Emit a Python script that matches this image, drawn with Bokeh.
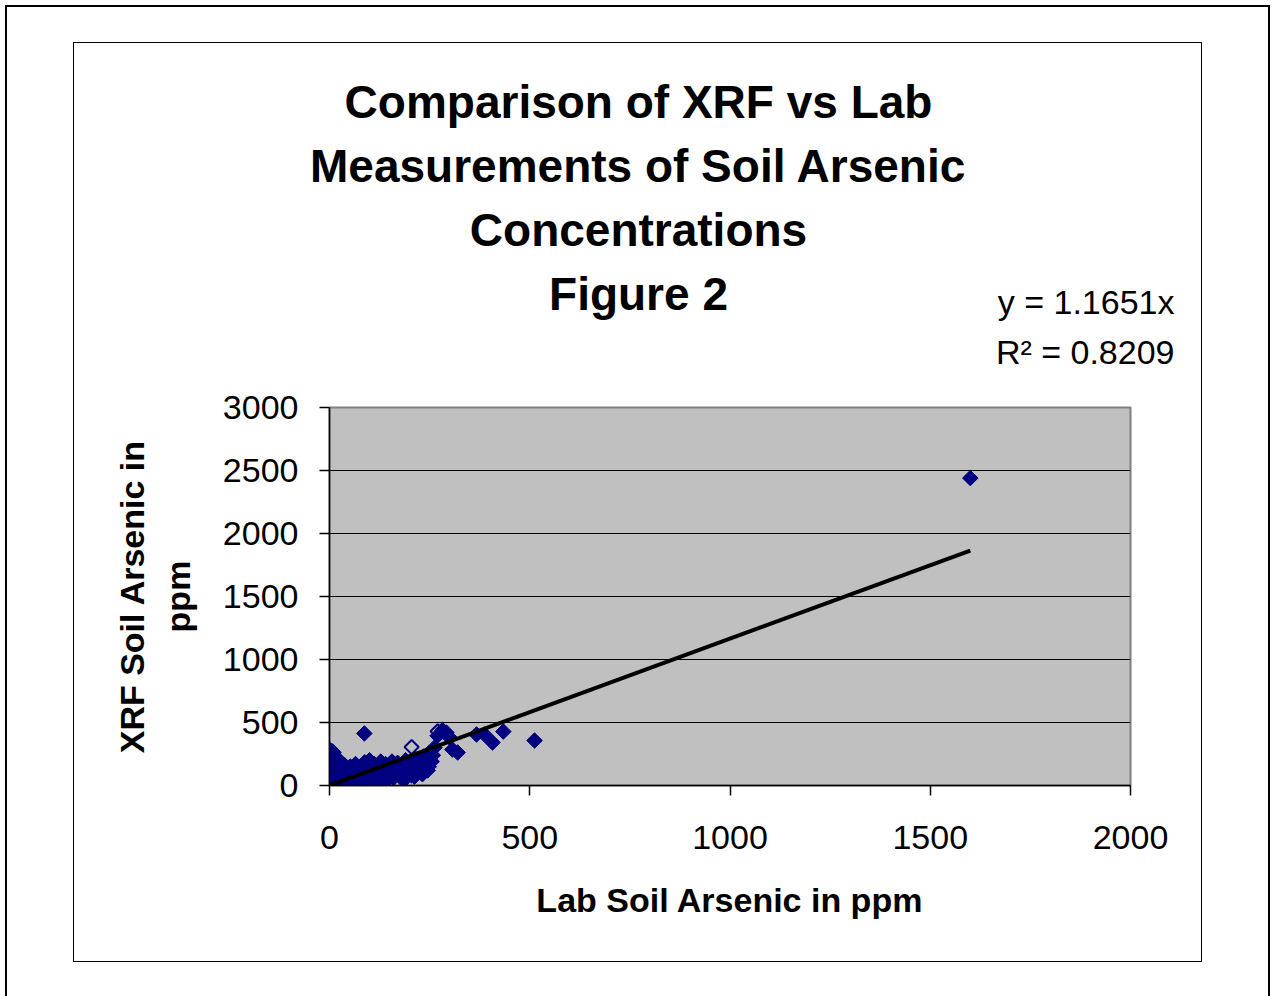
import math
from bokeh.plotting import figure
from bokeh.layouts import column
from bokeh.models import Range1d, FixedTicker, ColumnDataSource
from bokeh.core.properties import value
from bokeh.embed import file_html
from bokeh.resources import INLINE

# ---- data ----
lab_filled = [1, 2, 3, 3, 4, 5, 5, 6, 7, 8, 9, 10, 12, 14, 15, 16, 18, 20, 22, 4, 6, 11, 13, 17, 19, 21,
              24, 26, 28, 30, 32, 35, 38, 40, 42, 45, 2, 8, 14, 25, 33, 10, 18, 27,
              48, 52, 55, 58, 62, 65, 68, 72, 76, 80, 84, 88, 92, 96, 100, 104, 108, 112, 116, 120, 124,
              128, 132, 136, 140, 144, 148, 152, 156, 160, 165, 170, 175, 180, 185, 190, 195, 200, 205,
              210, 215, 220, 225, 230, 235, 240, 245, 250, 255, 262, 232, 248, 258, 212, 198, 186,
              87, 282, 270, 292, 300, 307, 320, 367, 387, 407, 434, 512, 1600, 125, 135, 118]
xrf_filled = [3, 10, 25, 50, 70, 90, 120, 150, 180, 210, 240, 260, 225, 190, 150, 110, 75, 40, 15, 200, 235,
              55, 30, 95, 130, 170, 200, 140, 90, 50, 20, 110, 160, 70, 30, 120, 280, 270, 60, 175, 60, 5, 5, 8,
              80, 150, 25, 110, 60, 170, 10, 130, 90, 40, 150, 185, 110, 60, 200, 140, 20, 170, 100, 150, 60,
              190, 120, 80, 170, 40, 140, 100, 190, 60, 130, 180, 90, 150, 40, 200, 120, 170, 80,
              140, 210, 110, 180, 150, 230, 170, 120, 260, 190, 300, 90, 150, 240, 70, 120, 60,
              413, 440, 395, 420, 380, 285, 262, 405, 405, 341, 428, 357, 2440, 15, 25, 30]

lab_hollow = [205, 125, 270, 60, 25, 150, 180, 10, 240]
xrf_hollow = [305, 5, 430, 140, 90, 80, 160, 30, 200]

slope = 1.1651
r_squared = 0.8209
trend_x = [0, 1600]

title_lines = ["Comparison of XRF vs Lab", "Measurements of Soil Arsenic", "Concentrations", "Figure 2"]
equation_lines = ["y = %.4fx" % slope, "R\u00b2 = %.4f" % r_squared]
x_ticks = [0, 500, 1000, 1500, 2000]
y_ticks = [0, 500, 1000, 1500, 2000, 2500, 3000]

FONT = "Liberation Sans"

# chart area (inner box) content starts at page (75, 44)
OX, OY = 75, 44
W = 1127
HTOP = 344                  # heading strip: page y 44..388
HMAIN = 918 - HTOP          # main plot: page y 388..961

# ---------- heading strip (title + regression text) ----------
top = figure(width=W, height=HTOP, output_backend="svg", toolbar_location=None,
             x_range=Range1d(0, W), y_range=Range1d(HTOP, 0),
             min_border=0, x_axis_location=None, y_axis_location=None)
top.frame_align = False
top.outline_line_color = None
top.background_fill_color = "white"
top.border_fill_color = "white"
top.grid.visible = False

title_src = ColumnDataSource(dict(x=[639 - OX] * 4, y=[102 - OY + 64 * i for i in range(4)],
                                  t=title_lines))
top.text("x", "y", text="t", source=title_src, text_font=value(FONT), text_font_style="bold",
         text_font_size="46px", text_align="center", text_baseline="middle", text_color="black")

eq_src = ColumnDataSource(dict(x=[1175 - OX] * 2, y=[302 - OY, 352 - OY], t=equation_lines))
top.text("x", "y", text="t", source=eq_src, text_font=value(FONT), text_font_style="normal",
         text_font_size="34px", text_align="right", text_baseline="middle", text_color="black")

# ---------- main scatter plot ----------
FL, FR = 330 - OX, 1131 - OX
FT, FB = 408 - (OY + HTOP), 786 - (OY + HTOP)

p = figure(width=W, height=HMAIN, output_backend="svg", toolbar_location=None,
           x_range=Range1d(0, 2000), y_range=Range1d(0, 3000),
           min_border_left=FL, min_border_right=W - FR,
           min_border_top=FT, min_border_bottom=HMAIN - FB)
p.frame_align = False
p.background_fill_color = "#c0c0c0"
p.border_fill_color = "white"
p.outline_line_color = "#808080"
p.outline_line_width = 2

p.xgrid.visible = False
p.ygrid.grid_line_color = "black"
p.ygrid.grid_line_width = 1
p.ygrid.ticker = FixedTicker(ticks=y_ticks)

for ax, ticks in ((p.xaxis, x_ticks), (p.yaxis, y_ticks)):
    ax.ticker = FixedTicker(ticks=ticks)
    ax.minor_tick_line_color = None
    ax.major_tick_out = 10
    ax.major_tick_in = 0
    ax.axis_line_color = "black"
    ax.axis_line_width = 1.5
    ax.major_tick_line_color = "black"
    ax.major_tick_line_width = 1.5
    ax.major_label_text_font = FONT
    ax.major_label_text_font_size = "34px"
    ax.major_label_text_color = "black"
    ax.axis_label_text_font = FONT
    ax.axis_label_text_font_style = "bold"
    ax.axis_label_text_font_size = "34px"
    ax.axis_label_text_color = "black"

p.xaxis.axis_label = "Lab Soil Arsenic in ppm"
p.yaxis.axis_label = "XRF Soil Arsenic in\nppm"
p.xaxis.major_label_standoff = 30
p.xaxis.axis_label_standoff = 29
p.yaxis.major_label_standoff = 21
p.yaxis.axis_label_standoff = 23

src_h = ColumnDataSource(dict(x=lab_hollow, y=xrf_hollow))
p.scatter("x", "y", source=src_h, marker="square", size=10, angle=math.pi / 4,
          fill_alpha=0, line_color="#000080", line_width=2)

src_f = ColumnDataSource(dict(x=lab_filled, y=xrf_filled))
p.scatter("x", "y", source=src_f, marker="square", size=11, angle=math.pi / 4,
          fill_color="#000080", line_color="#000080", line_width=1)

p.line(trend_x, [slope * v for v in trend_x], line_color="black", line_width=4)

# ---------- borders (chart area box and outer page box) ----------
inner = column(top, p, spacing=0, margin=(35, 0, 0, 66),
               styles={"border": "1.5px solid black"})
layout = column(inner, width=1265, height=991, margin=(5, 0, 0, 5),
                styles={"border-left": "2.5px solid black", "border-top": "2.5px solid black",
                        "border-right": "2.5px solid black"})

open("out.html", "w").write(file_html(layout, INLINE))
